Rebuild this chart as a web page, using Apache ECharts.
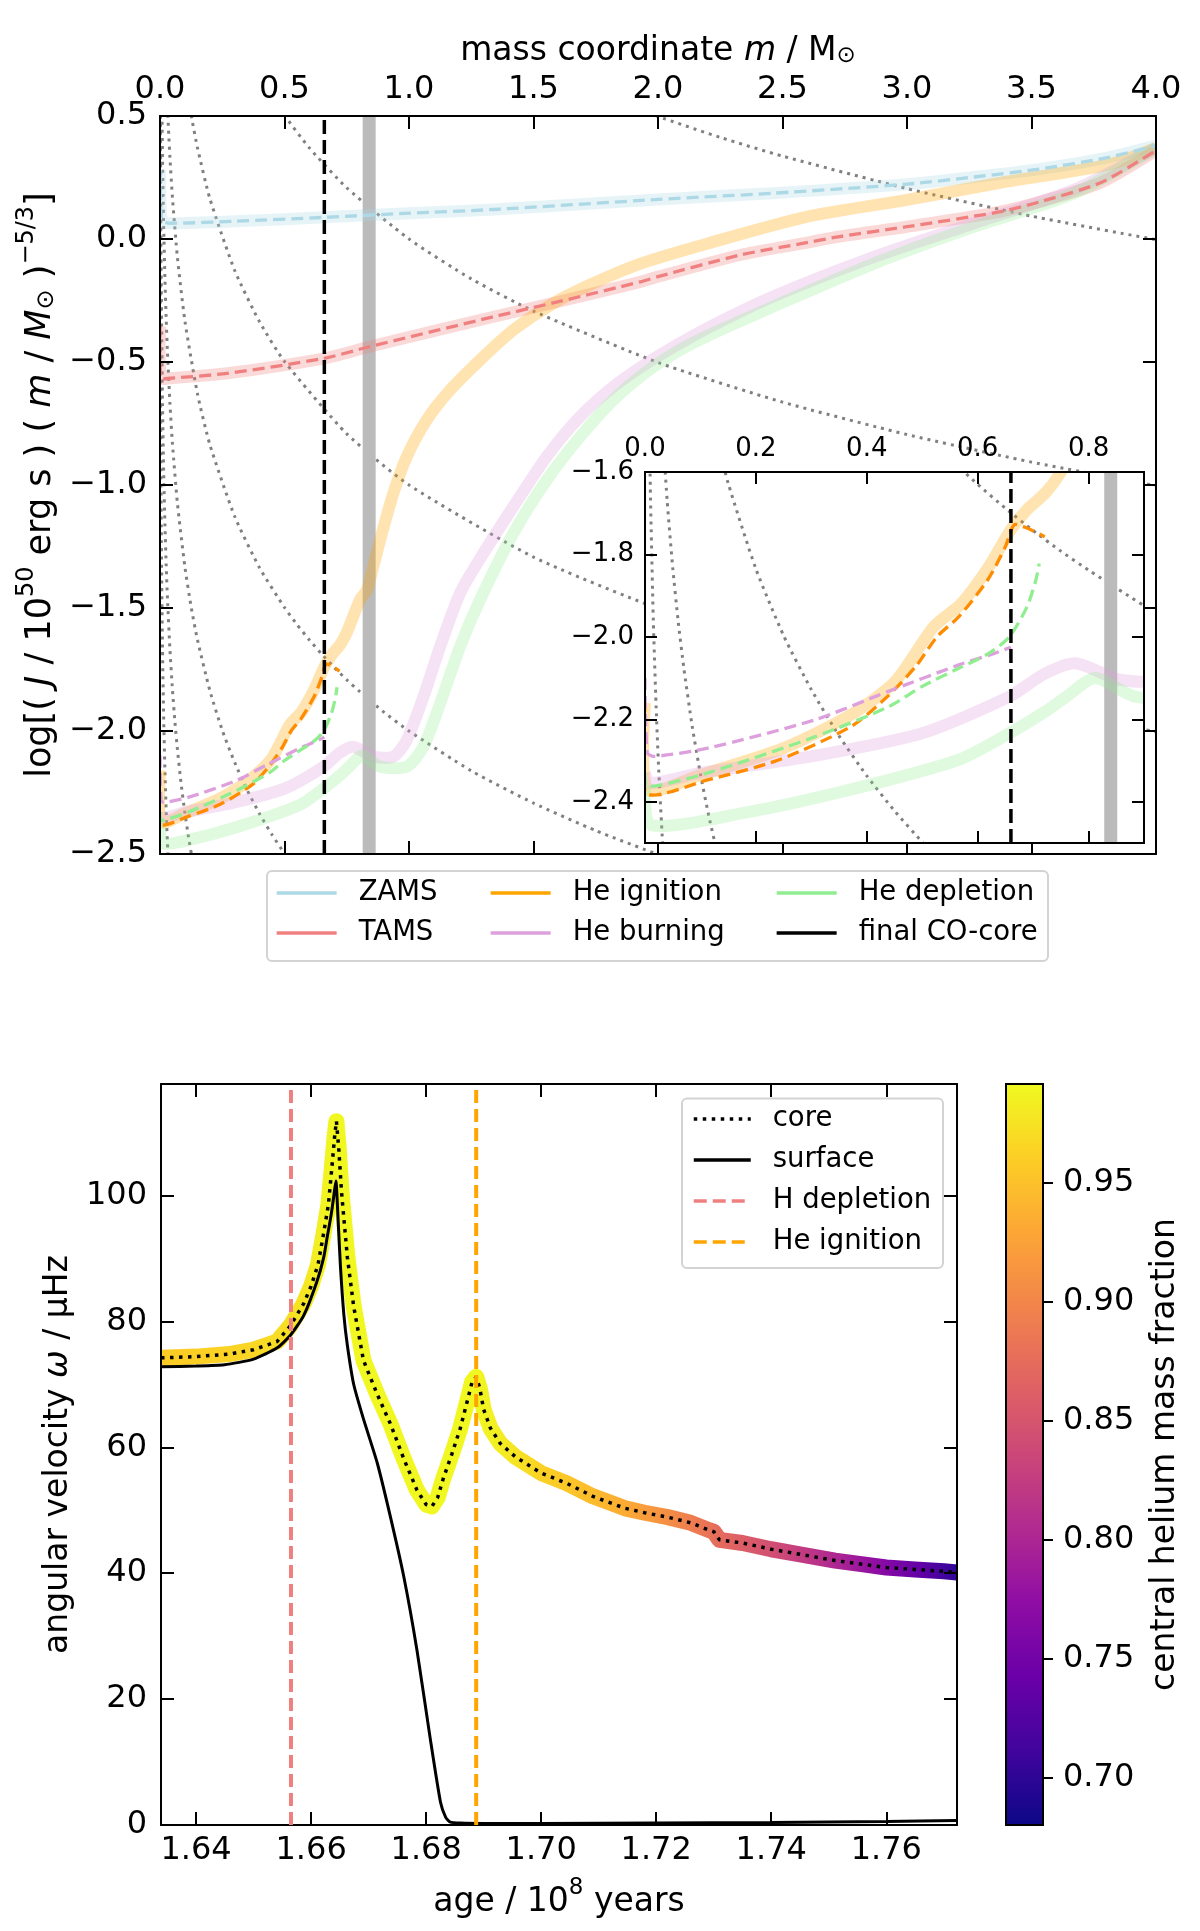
<!DOCTYPE html>
<html>
<head>
<meta charset="utf-8">
<script src="https://cdn.jsdelivr.net/npm/echarts@6.0.0/dist/echarts.min.js"></script>
<style>
  html, body { margin: 0; padding: 0; background: #fff; }
  #chart { width: 1200px; height: 1931px; }
</style>
</head>
<body>
<div id="chart"></div>
<script>
var FONT = 'DejaVu Sans';

// ---------- top panel: log[J / m^(5/3)] profiles vs mass coordinate ----------
var zamsM = [0, 0.004, 0.015, 0.05, 0.3, 0.66, 1.0, 1.34, 2.0, 2.46, 3.0, 3.27, 3.53, 3.8, 4.0];
var zamsY = [0.28, 0.10, 0.07, 0.064, 0.072, 0.088, 0.105, 0.12, 0.161, 0.186, 0.223, 0.252, 0.284, 0.33, 0.38];

var tamsM = [0, 0.004, 0.04, 0.27, 0.66, 0.84, 1.34, 1.6, 1.93, 2.0, 2.33, 2.57, 2.73, 3.0, 3.37, 3.53, 3.78, 4.0];
var tamsY = [-0.356, -0.565, -0.566, -0.546, -0.485, -0.438, -0.316, -0.255, -0.174, -0.153, -0.065, -0.02, 0.01, 0.05, 0.11, 0.15, 0.23, 0.36];

var heIgnM = [0, 0.005, 0.1, 0.25, 0.37, 0.45, 0.521, 0.57, 0.62, 0.66, 0.69, 0.723, 0.75, 0.803, 0.83, 0.843, 0.884, 0.937, 0.991, 1.071, 1.165, 1.285, 1.419, 1.58, 1.74, 1.93, 2.2, 2.6, 3.0, 3.4, 3.8, 4.0];
var heIgnY = [-2.16, -2.37, -2.335, -2.27, -2.19, -2.11, -1.975, -1.92, -1.83, -1.74, -1.69, -1.65, -1.60, -1.467, -1.43, -1.386, -1.224, -1.034, -0.885, -0.736, -0.614, -0.492, -0.370, -0.261, -0.18, -0.1, -0.018, 0.091, 0.159, 0.233, 0.30, 0.37];

var heBurnM = [0, 0.01, 0.1, 0.3, 0.5, 0.657, 0.72, 0.776, 0.857, 0.937, 0.991, 1.058, 1.125, 1.205, 1.285, 1.419, 1.553, 1.687, 1.821, 1.955, 2.088, 2.222, 2.46, 2.87, 3.27, 3.67, 4.0];
var heBurnY = [-2.33, -2.355, -2.33, -2.29, -2.234, -2.145, -2.09, -2.064, -2.104, -2.104, -2.037, -1.861, -1.657, -1.44, -1.30, -1.088, -0.885, -0.722, -0.600, -0.505, -0.424, -0.350, -0.235, -0.072, 0.064, 0.2, 0.37];

var heDeplM = [0, 0.01, 0.178, 0.372, 0.566, 0.657, 0.723, 0.76, 0.812, 0.884, 0.991, 1.058, 1.125, 1.205, 1.285, 1.419, 1.553, 1.687, 1.821, 1.955, 2.088, 2.222, 2.46, 2.87, 3.27, 3.67, 4.0];
var heDeplY = [-2.36, -2.456, -2.427, -2.37, -2.298, -2.234, -2.18, -2.145, -2.10, -2.145, -2.145, -2.064, -1.888, -1.657, -1.467, -1.196, -0.980, -0.804, -0.654, -0.539, -0.451, -0.383, -0.276, -0.099, 0.05, 0.185, 0.37];

// dashed (inner core) parts
var heIgnDashM = [0, 0.003, 0.113, 0.242, 0.372, 0.437, 0.488, 0.527, 0.566, 0.618, 0.650, 0.666, 0.689, 0.721];
var heIgnDashY = [-2.17, -2.379, -2.347, -2.298, -2.217, -2.145, -2.072, -1.999, -1.951, -1.862, -1.781, -1.728, -1.736, -1.757];
var heBurnDashM = [0, 0.004, 0.016, 0.113, 0.307, 0.437, 0.566, 0.63, 0.66];
var heBurnDashY = [-2.10, -2.28, -2.29, -2.27, -2.201, -2.133, -2.068, -2.04, -2.025];
var heDeplDashM = [0, 0.004, 0.113, 0.307, 0.44, 0.5, 0.566, 0.62, 0.657, 0.689, 0.705, 0.711];
var heDeplDashY = [-2.33, -2.363, -2.33, -2.242, -2.169, -2.12, -2.076, -2.04, -2.0, -1.927, -1.862, -1.822];

// grey dotted lines of constant J
var isoA = [[1.9, 0.535], [2.0, 0.498], [2.25, 0.413], [2.5, 0.337], [3.0, 0.205], [3.5, 0.093], [4.0, -0.003]];
var isoB = [[0.48, 0.531], [0.5, 0.502], [0.6, 0.370], [0.75, 0.208], [1.0, 0.0], [1.25, -0.162], [1.5, -0.293], [2.0, -0.502], [2.5, -0.663], [3.0, -0.795], [3.5, -0.907], [4.0, -1.003]];
var isoC = [[0.12, 0.535], [0.13, 0.477], [0.15, 0.373], [0.2, 0.165], [0.3, -0.128], [0.4, -0.337], [0.5, -0.498], [0.75, -0.792], [1.0, -1.0], [1.5, -1.293], [2.0, -1.502], [2.5, -1.663], [3.0, -1.795], [3.5, -1.907], [4.0, -2.003]];
var isoD = [[0.03, 0.538], [0.035, 0.427], [0.04, 0.330], [0.05, 0.168], [0.07, -0.075], [0.1, -0.333], [0.15, -0.627], [0.2, -0.835], [0.3, -1.128], [0.4, -1.337], [0.5, -1.498], [0.55, -1.567], [0.6, -1.630], [0.65, -1.688], [0.7, -1.742], [0.75, -1.792], [0.8, -1.838], [0.9, -1.924], [1.0, -2.0], [1.25, -2.162], [1.5, -2.293], [1.75, -2.405], [2.0, -2.502], [2.1, -2.537]];
var isoE = [[0.0075, 0.541], [0.008, 0.495], [0.01, 0.333], [0.0125, 0.172], [0.015, 0.040], [0.02, -0.168], [0.025, -0.330], [0.03, -0.462], [0.04, -0.670], [0.05, -0.832], [0.07, -1.075], [0.1, -1.333], [0.125, -1.495], [0.15, -1.627], [0.2, -1.835], [0.25, -1.997], [0.3, -2.128], [0.35, -2.240], [0.4, -2.337], [0.45, -2.422], [0.5, -2.498], [0.52, -2.527]];
var isoF = [[0.0019, 0.535], [0.002, 0.498], [0.003, 0.205], [0.004, -0.003], [0.005, -0.165], [0.007, -0.408], [0.01, -0.667], [0.015, -0.960], [0.02, -1.168], [0.025, -1.330], [0.03, -1.462], [0.04, -1.670], [0.05, -1.832], [0.06, -1.964], [0.07, -2.075], [0.085, -2.216], [0.1, -2.333], [0.115, -2.434], [0.13, -2.523]];
var isoG = [[0.00048, 0.531], [0.0005, 0.502], [0.00075, 0.208], [0.001, 0.0], [0.0015, -0.293], [0.002, -0.502], [0.003, -0.795], [0.005, -1.165], [0.007, -1.408], [0.01, -1.667], [0.015, -1.960], [0.02, -2.168], [0.025, -2.330], [0.032, -2.508]];

var coCoreMass = 0.66;     // final CO-core (black dashed)
var greyBandMass = 0.84;   // grey vertical band

var topRangeX = [0, 4], topRangeY = [-2.5, 0.5];
var insetRangeX = [0, 0.9], insetRangeY = [-2.5, -1.6];
var topTicksX = [0, 0.5, 1.0, 1.5, 2.0, 2.5, 3.0, 3.5, 4.0];
var topTicksY = [-2.5, -2.0, -1.5, -1.0, -0.5, 0.0, 0.5];
var insetTicksX = [0, 0.2, 0.4, 0.6, 0.8];
var insetTicksY = [-2.4, -2.2, -2.0, -1.8, -1.6];

// ---------- bottom panel: angular velocity vs age ----------
var ageCore = [1.6339, 1.6400, 1.6458, 1.6500, 1.6541, 1.6564, 1.6587, 1.6600, 1.6612, 1.6622, 1.6630, 1.6636, 1.6641, 1.6644, 1.6648, 1.6653, 1.6663, 1.6674, 1.6691, 1.6715, 1.6738, 1.6761, 1.6784, 1.6800, 1.6810, 1.6820, 1.6830, 1.6845, 1.6859, 1.6872, 1.6880, 1.6887, 1.6893, 1.6900, 1.6912, 1.6929, 1.6955, 1.6986, 1.7000, 1.7044, 1.7090, 1.7146, 1.7180, 1.7220, 1.7260, 1.7293, 1.7300, 1.7310, 1.7350, 1.7400, 1.7450, 1.7511, 1.7560, 1.7600, 1.7650, 1.7700, 1.7723];
var omegaCore = [74.2, 74.4, 74.8, 75.5, 76.8, 79.3, 82.8, 85.6, 89.0, 94.1, 98.5, 104.3, 109.5, 111.8, 107.5, 100.4, 90.2, 82.4, 73.8, 68.4, 63.7, 58.2, 53.2, 50.9, 50.6, 52.0, 55.1, 59.0, 62.9, 67.5, 70.4, 71.2, 69.5, 66.0, 63.0, 60.6, 58.5, 56.7, 55.9, 54.3, 52.2, 50.3, 49.6, 48.9, 48.0, 46.8, 46.6, 45.3, 44.8, 43.8, 43.0, 42.0, 41.4, 40.9, 40.6, 40.3, 40.1];
var heCore = [0.958, 0.960, 0.963, 0.966, 0.970, 0.972, 0.976, 0.979, 0.982, 0.985, 0.987, 0.988, 0.989, 0.990, 0.990, 0.990, 0.990, 0.990, 0.990, 0.990, 0.990, 0.990, 0.990, 0.990, 0.990, 0.990, 0.990, 0.990, 0.990, 0.990, 0.990, 0.990, 0.989, 0.988, 0.986, 0.983, 0.976, 0.968, 0.962, 0.955, 0.945, 0.932, 0.920, 0.905, 0.890, 0.878, 0.875, 0.872, 0.858, 0.842, 0.822, 0.798, 0.778, 0.758, 0.735, 0.705, 0.690];

var ageSurf = [1.6339, 1.6400, 1.6449, 1.6500, 1.6541, 1.6564, 1.6587, 1.6610, 1.6622, 1.6628, 1.6635, 1.6639, 1.6643, 1.6647, 1.6651, 1.6657, 1.6663, 1.6674, 1.6691, 1.6715, 1.6738, 1.6761, 1.6784, 1.6807, 1.6825, 1.6834, 1.6842, 1.6860, 1.6900, 1.7000, 1.7200, 1.7400, 1.7600, 1.7723];
var omegaSurf = [72.8, 72.9, 73.1, 74.0, 75.8, 77.8, 80.9, 86.3, 90.2, 93.4, 97.0, 99.6, 102.3, 96.0, 88.7, 81.0, 76.2, 70.0, 64.5, 57.5, 48.9, 39.5, 27.8, 13.8, 3.6, 1.2, 0.45, 0.3, 0.25, 0.25, 0.3, 0.4, 0.55, 0.7];

var hDepletionAge = 1.6565;
var heIgnitionAge = 1.6887;

var botRangeX = [1.6339, 1.7723], botRangeY = [0, 117.7];
var botTicksX = [1.64, 1.66, 1.68, 1.70, 1.72, 1.74, 1.76];
var botTicksY = [0, 20, 40, 60, 80, 100];
var cbTicks = [0.70, 0.75, 0.80, 0.85, 0.90, 0.95];
var cbMin = 0.68, cbMax = 0.9913;

var plasmaStops = ['#0d0887', '#41049d', '#6a00a8', '#8f0da4', '#b12a90', '#cc4778', '#e16462', '#f2844b', '#fca636', '#fcce25', '#f0f921'];

// ---------- helpers ----------
function zip(xs, ys) { return xs.map(function (x, i) { return [x, ys[i]]; }); }
function minus(s) { return String(s).replace('-', '\u2212'); }
function hexRgb(h) { return [parseInt(h.substr(1, 2), 16), parseInt(h.substr(3, 2), 16), parseInt(h.substr(5, 2), 16)]; }
function plasma(t) {
  t = Math.max(0, Math.min(1, t));
  var n = plasmaStops.length - 1, k = Math.min(n - 1, Math.floor(t * n)), f = t * n - k;
  var a = hexRgb(plasmaStops[k]), b = hexRgb(plasmaStops[k + 1]);
  return 'rgb(' + [0, 1, 2].map(function (j) { return Math.round(a[j] + (b[j] - a[j]) * f); }).join(',') + ')';
}

// ordinary line series (bottom panel, legend entries)
function ln(name, data, ai, color, width, type, opacity, z, smooth) {
  return {
    type: 'line', name: name, data: data, xAxisIndex: ai, yAxisIndex: ai,
    symbol: 'none', smooth: smooth || false, clip: true, silent: true, z: z,
    itemStyle: { color: 'rgba(0,0,0,0)' },
    lineStyle: { color: color, width: width, type: type || 'solid', opacity: opacity == null ? 1 : opacity, cap: 'butt' }
  };
}

// polyline drawn through the axes (tight clipping to the grid, also for thick lines)
function curve(points, ai, color, width, dash, opacity, z, smooth) {
  return {
    type: 'custom', coordinateSystem: 'cartesian2d', xAxisIndex: ai, yAxisIndex: ai,
    clip: true, silent: true, z: z, data: [points[0]],
    renderItem: function (params, api) {
      return {
        type: 'polyline',
        shape: { points: points.map(function (p) { return api.coord(p); }), smooth: smooth || 0 },
        style: { stroke: color, lineWidth: width, lineDash: dash || null, opacity: opacity, fill: null, lineCap: 'butt', lineJoin: 'round' }
      };
    }
  };
}

var rich = {
  n: { fontFamily: FONT, fontSize: 33, lineHeight: 42, verticalAlign: 'bottom', color: '#000' },
  i: { fontFamily: FONT, fontSize: 33, fontStyle: 'italic', lineHeight: 42, verticalAlign: 'bottom', color: '#000' },
  sup: { fontFamily: FONT, fontSize: 23, lineHeight: 23, verticalAlign: 'top', color: '#000' },
  sub: { fontFamily: FONT, fontSize: 23, lineHeight: 28, verticalAlign: 'bottom', color: '#000' },
  N: { fontFamily: FONT, fontSize: 35, lineHeight: 44, verticalAlign: 'bottom', color: '#000' },
  I: { fontFamily: FONT, fontSize: 35, fontStyle: 'italic', lineHeight: 44, verticalAlign: 'bottom', color: '#000' },
  SUP: { fontFamily: FONT, fontSize: 24, lineHeight: 24, verticalAlign: 'top', color: '#000' },
  SUB: { fontFamily: FONT, fontSize: 24, lineHeight: 29, verticalAlign: 'bottom', color: '#000' }
};

function axis(grid, pos, range, ticks, o) {
  o = o || {};
  return {
    type: 'value', gridIndex: grid, position: pos, min: range[0], max: range[1], z: o.z || 6,
    axisLine: { show: true, onZero: false, lineStyle: { color: '#000', width: 2 } },
    axisTick: { show: true, inside: !o.tickOut, length: o.tickLen || 13, customValues: ticks, lineStyle: { color: '#000', width: 2 } },
    axisLabel: { show: !!o.fmt, customValues: ticks, formatter: o.fmt, color: '#000', fontFamily: FONT, fontSize: o.fs || 32, margin: o.margin || 12 },
    splitLine: { show: false },
    name: o.name || '', nameLocation: 'middle', nameGap: o.gap || 0, nameRotate: o.rot || 0,
    nameTextStyle: { color: '#000', fontFamily: FONT, fontSize: 33, rich: rich }
  };
}

var f1 = function (v) { return minus(v.toFixed(1)); };
var f2 = function (v) { return v.toFixed(2); };
var f0 = function (v) { return v.toFixed(0); };

// ---------- series ----------
function profileSeries(ai, zb, yr) {
  var s = [];
  var sm = 0.25, dash = [12, 6];
  [isoA, isoB, isoC, isoD, isoE, isoF, isoG].forEach(function (c) {
    s.push(curve(c, ai, '#808080', 3, [3, 5], 1, zb, 0.2));
  });
  s.push(curve([[greyBandMass, yr[0]], [greyBandMass, yr[1]]], ai, '#BBBBBB', 13, null, 1, zb + 1));
  s.push(curve(zip(zamsM, zamsY), ai, '#ADD8E6', 12, null, 0.3, zb + 2, sm));
  s.push(curve(zip(tamsM, tamsY), ai, '#F08080', 12, null, 0.3, zb + 2, sm));
  s.push(curve(zip(heIgnM, heIgnY), ai, '#FFA500', 12, null, 0.3, zb + 2, sm));
  s.push(curve(zip(heBurnM, heBurnY), ai, '#DDA0DD', 12, null, 0.3, zb + 2, sm));
  s.push(curve(zip(heDeplM, heDeplY), ai, '#90EE90', 12, null, 0.28, zb + 2, sm));
  s.push(curve(zip(zamsM, zamsY), ai, '#ADD8E6', 3.3, dash, 1, zb + 3, sm));
  s.push(curve(zip(tamsM, tamsY), ai, '#F08080', 3.3, dash, 1, zb + 3, sm));
  s.push(curve(zip(heIgnDashM, heIgnDashY), ai, '#FF8C00', 3.3, dash, 1, zb + 3, sm));
  s.push(curve(zip(heBurnDashM, heBurnDashY), ai, '#DDA0DD', 3.3, dash, 1, zb + 3, sm));
  s.push(curve(zip(heDeplDashM, heDeplDashY), ai, '#90EE90', 3.3, dash, 1, zb + 3, sm));
  s.push(curve([[coCoreMass, yr[0]], [coCoreMass, yr[1]]], ai, '#000', 3.5, [14, 6], 1, zb + 4));
  return s;
}

var series = [].concat(profileSeries(0, 1, topRangeY), profileSeries(2, 11, insetRangeY));

// legend-only entries for the top panel
[['ZAMS', '#ADD8E6'], ['TAMS', '#F08080'], ['He ignition', '#FFA500'], ['He burning', '#DDA0DD'], ['He depletion', '#90EE90'], ['final CO-core', '#000000']].forEach(function (p) {
  series.push(ln(p[0], [], 0, p[1], 3.3, 'solid', 1, 1));
});

// bottom panel
var coreStops = ageCore.map(function (a, i) {
  return { offset: (a - ageCore[0]) / (ageCore[ageCore.length - 1] - ageCore[0]), color: plasma((heCore[i] - cbMin) / (cbMax - cbMin)) };
});
var colourLine = ln('heliumColour', zip(ageCore, omegaCore), 4, '#000', 16, 'solid', 1, 3);
colourLine.lineStyle.color = new echarts.graphic.LinearGradient(0, 0, 1, 0, coreStops);
colourLine.lineStyle.join = 'round';
series.push(colourLine);
series.push(ln('surface', zip(ageSurf, omegaSurf), 4, '#000', 3, 'solid', 1, 4, 0.2));
series.push(ln('core', zip(ageCore, omegaCore), 4, '#000', 3.5, [3.5, 5.5], 1, 5));
series.push(ln('H depletion', [[hDepletionAge, botRangeY[0]], [hDepletionAge, botRangeY[1]]], 4, '#F08080', 4, [13, 6], 1, 6));
series.push(ln('He ignition line', [[heIgnitionAge, botRangeY[0]], [heIgnitionAge, botRangeY[1]]], 4, '#FFA500', 4, [13, 6], 1, 6));

// dummy series carrying the colour bar
series.push({ type: 'scatter', name: 'cb', data: [], xAxisIndex: 6, yAxisIndex: 6 });
var cbSeriesIndex = series.length - 1;

var legendText = { color: '#000', fontFamily: FONT, fontSize: 27.5, lineHeight: 30, padding: [0, 0, 0, 17] };
function topLegend(left, names) {
  return {
    data: names, orient: 'vertical', left: left, top: 878, itemWidth: 60, itemHeight: 14, itemGap: 10, padding: 0, z: 21,
    selectedMode: false, textStyle: legendText, itemStyle: { opacity: 0 }, lineStyle: { width: 3.3 }
  };
}

var option = {
  backgroundColor: '#fff',
  animation: false,
  grid: [
    { left: 160, top: 116, width: 996, height: 738, show: false },
    { left: 645, top: 472, width: 499, height: 371, show: true, backgroundColor: '#fff', borderColor: '#000', borderWidth: 2, z: 10 },
    { left: 161, top: 1084, width: 796, height: 741, show: false },
    { left: 1006, top: 1084, width: 37, height: 741, show: true, backgroundColor: 'transparent', borderColor: '#000', borderWidth: 2, z: 10 }
  ],
  xAxis: [
    axis(0, 'top', topRangeX, topTicksX, { fmt: f1, margin: 10, name: '{n|mass coordinate }{i|m}{n| / M}{sub|\u2299}', gap: 48 }),
    axis(0, 'bottom', topRangeX, topTicksX),
    axis(1, 'top', insetRangeX, insetTicksX, { fmt: f1, fs: 26, margin: 10, tickLen: 12, z: 16 }),
    axis(1, 'bottom', insetRangeX, insetTicksX, { tickLen: 12, z: 16 }),
    axis(2, 'bottom', botRangeX, botTicksX, { fmt: f2, margin: 10, name: '{n|age / 10}{sup|8}{n| years}', gap: 52 }),
    axis(2, 'top', botRangeX, botTicksX),
    { type: 'value', gridIndex: 3, show: false, min: 0, max: 1 }
  ],
  yAxis: [
    axis(0, 'left', topRangeY, topTicksY, { fmt: f1, margin: 13, rot: 90, gap: 96,
      name: '{N|log[( }{I|J}{N| / 10}{SUP|50}{N| erg s ) ( }{I|m}{N| / }{I|M}{SUB|\u2299}{N| )}{SUP|\u22125/3}{N|]}' }),
    axis(0, 'right', topRangeY, topTicksY),
    axis(1, 'left', insetRangeY, insetTicksY, { fmt: f1, fs: 26, margin: 11, tickLen: 12, z: 16 }),
    axis(1, 'right', insetRangeY, insetTicksY, { tickLen: 12, z: 16 }),
    axis(2, 'left', botRangeY, botTicksY, { fmt: f0, margin: 14, rot: 90, gap: 84, name: '{n|angular velocity }{i|\u03c9}{n| / \u03bcHz}' }),
    axis(2, 'right', botRangeY, botTicksY),
    axis(3, 'right', [cbMin, cbMax], cbTicks, { fmt: f2, tickOut: true, tickLen: 10, margin: 20, rot: 90, gap: 106, z: 12, name: 'central helium mass fraction' })
  ],
  visualMap: [{
    type: 'continuous', show: true, seriesIndex: cbSeriesIndex, min: cbMin, max: cbMax,
    orient: 'vertical', left: 1006, top: 1084, itemWidth: 37, itemHeight: 741, padding: 0,
    calculable: false, hoverLink: false, text: null, inRange: { color: plasmaStops }, z: 8
  }],
  legend: [
    topLegend(275, ['ZAMS', 'TAMS']),
    topLegend(489, ['He ignition', 'He burning']),
    topLegend(775, ['He depletion', 'final CO-core']),
    {
      data: ['core', 'surface', 'H depletion', 'He ignition line'], orient: 'vertical', left: 692, top: 1104,
      itemWidth: 57, itemHeight: 14, itemGap: 11, padding: 0, z: 21, selectedMode: false, textStyle: legendText,
      itemStyle: { opacity: 0 }, lineStyle: { width: 3.5 },
      formatter: function (n) { return n === 'He ignition line' ? 'He ignition' : n; }
    }
  ],
  graphic: [
    { type: 'rect', z: 20, shape: { x: 267, y: 871, width: 781, height: 90, r: 5 }, style: { fill: 'rgba(255,255,255,0.8)', stroke: '#d3d3d3', lineWidth: 2 }, silent: true },
    { type: 'rect', z: 20, shape: { x: 682, y: 1098.5, width: 261, height: 169.5, r: 5 }, style: { fill: 'rgba(255,255,255,0.8)', stroke: '#d3d3d3', lineWidth: 2 }, silent: true }
  ],
  series: series
};

var chart = echarts.init(document.getElementById('chart'));
chart.setOption(option);
</script>
</body>
</html>
